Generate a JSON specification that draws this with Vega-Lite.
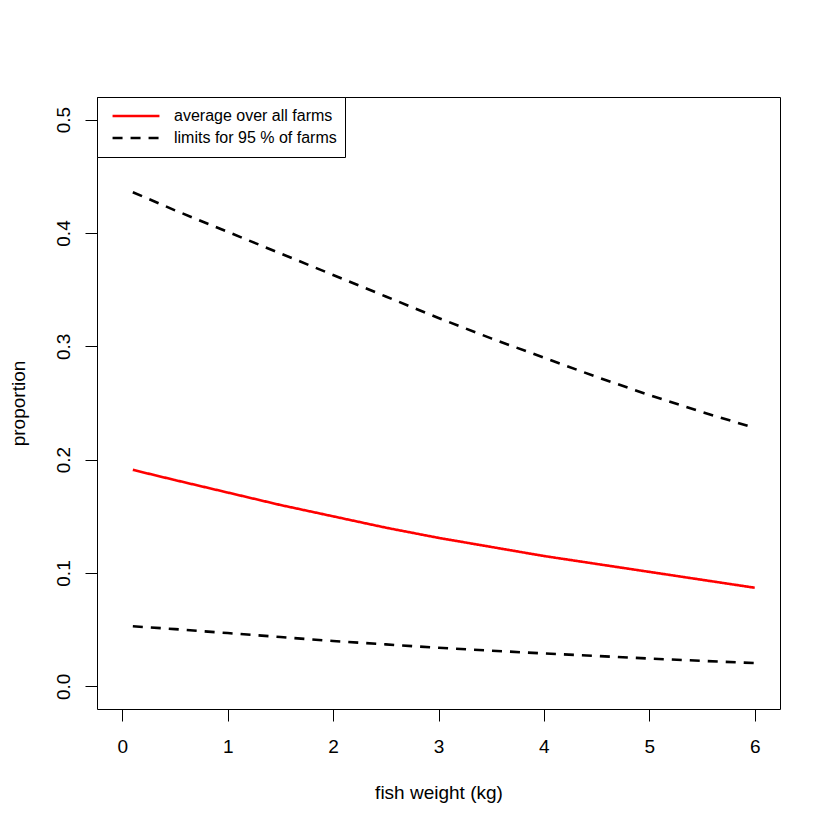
{
  "$schema": "https://vega.github.io/schema/vega-lite/v6.json",
  "autosize": "none",
  "width": 683,
  "height": 612,
  "padding": {"left": 97, "top": 97, "right": 50, "bottom": 121},
  "background": "white",
  "config": {
    "font": "Liberation Sans",
    "view": {"stroke": "black", "strokeWidth": 1},
    "axis": {
      "grid": false,
      "domain": false,
      "tickColor": "black",
      "tickWidth": 1,
      "tickSize": 12,
      "labelColor": "black",
      "labelFont": "Liberation Sans",
      "labelFontSize": 19,
      "titleFont": "Liberation Sans",
      "titleFontSize": 19,
      "titleFontWeight": "normal",
      "titleColor": "black"
    },
    "legend": {
      "orient": "top-left",
      "offset": 0,
      "strokeColor": "black",
      "strokeWidth": 1,
      "fillColor": "white",
      "padding": 8,
      "cornerRadius": 0,
      "symbolType": "stroke",
      "symbolSize": 2200,
      "symbolStrokeWidth": 2.6,
      "symbolOffset": 6,
      "clipHeight": 22,
      "rowPadding": 0,
      "labelFont": "Liberation Sans",
      "labelFontSize": 16,
      "labelColor": "black",
      "labelOffset": 13,
      "labelLimit": 400
    }
  },
  "data": {
    "values": [
      {"x": 0.1, "y": 0.191, "series": "average over all farms", "curve": "mean"},
      {"x": 0.5, "y": 0.182, "series": "average over all farms", "curve": "mean"},
      {"x": 1.0, "y": 0.171, "series": "average over all farms", "curve": "mean"},
      {"x": 1.5, "y": 0.160, "series": "average over all farms", "curve": "mean"},
      {"x": 2.0, "y": 0.150, "series": "average over all farms", "curve": "mean"},
      {"x": 2.5, "y": 0.140, "series": "average over all farms", "curve": "mean"},
      {"x": 3.0, "y": 0.131, "series": "average over all farms", "curve": "mean"},
      {"x": 3.5, "y": 0.123, "series": "average over all farms", "curve": "mean"},
      {"x": 4.0, "y": 0.115, "series": "average over all farms", "curve": "mean"},
      {"x": 4.5, "y": 0.108, "series": "average over all farms", "curve": "mean"},
      {"x": 5.0, "y": 0.101, "series": "average over all farms", "curve": "mean"},
      {"x": 5.5, "y": 0.094, "series": "average over all farms", "curve": "mean"},
      {"x": 6.0, "y": 0.087, "series": "average over all farms", "curve": "mean"},
      {"x": 0.1, "y": 0.436, "series": "limits for 95 % of farms", "curve": "upper"},
      {"x": 0.5, "y": 0.420, "series": "limits for 95 % of farms", "curve": "upper"},
      {"x": 1.0, "y": 0.401, "series": "limits for 95 % of farms", "curve": "upper"},
      {"x": 1.5, "y": 0.382, "series": "limits for 95 % of farms", "curve": "upper"},
      {"x": 2.0, "y": 0.363, "series": "limits for 95 % of farms", "curve": "upper"},
      {"x": 2.5, "y": 0.344, "series": "limits for 95 % of farms", "curve": "upper"},
      {"x": 3.0, "y": 0.325, "series": "limits for 95 % of farms", "curve": "upper"},
      {"x": 3.5, "y": 0.307, "series": "limits for 95 % of farms", "curve": "upper"},
      {"x": 4.0, "y": 0.290, "series": "limits for 95 % of farms", "curve": "upper"},
      {"x": 4.5, "y": 0.273, "series": "limits for 95 % of farms", "curve": "upper"},
      {"x": 5.0, "y": 0.257, "series": "limits for 95 % of farms", "curve": "upper"},
      {"x": 5.5, "y": 0.242, "series": "limits for 95 % of farms", "curve": "upper"},
      {"x": 6.0, "y": 0.228, "series": "limits for 95 % of farms", "curve": "upper"},
      {"x": 0.1, "y": 0.053, "series": "limits for 95 % of farms", "curve": "lower"},
      {"x": 0.5, "y": 0.0505, "series": "limits for 95 % of farms", "curve": "lower"},
      {"x": 1.0, "y": 0.047, "series": "limits for 95 % of farms", "curve": "lower"},
      {"x": 1.5, "y": 0.0435, "series": "limits for 95 % of farms", "curve": "lower"},
      {"x": 2.0, "y": 0.040, "series": "limits for 95 % of farms", "curve": "lower"},
      {"x": 2.5, "y": 0.037, "series": "limits for 95 % of farms", "curve": "lower"},
      {"x": 3.0, "y": 0.034, "series": "limits for 95 % of farms", "curve": "lower"},
      {"x": 3.5, "y": 0.0315, "series": "limits for 95 % of farms", "curve": "lower"},
      {"x": 4.0, "y": 0.029, "series": "limits for 95 % of farms", "curve": "lower"},
      {"x": 4.5, "y": 0.0268, "series": "limits for 95 % of farms", "curve": "lower"},
      {"x": 5.0, "y": 0.0245, "series": "limits for 95 % of farms", "curve": "lower"},
      {"x": 5.5, "y": 0.0225, "series": "limits for 95 % of farms", "curve": "lower"},
      {"x": 6.0, "y": 0.0205, "series": "limits for 95 % of farms", "curve": "lower"}
    ]
  },
  "mark": {"type": "line", "strokeWidth": 2.6, "clip": true},
  "encoding": {
    "x": {
      "field": "x",
      "type": "quantitative",
      "scale": {"domain": [-0.24, 6.24], "nice": false, "zero": false},
      "axis": {
        "values": [0, 1, 2, 3, 4, 5, 6],
        "format": "d",
        "title": "fish weight (kg)",
        "labelPadding": 16,
        "titlePadding": 27
      }
    },
    "y": {
      "field": "y",
      "type": "quantitative",
      "scale": {"domain": [-0.02, 0.52], "nice": false, "zero": false},
      "axis": {
        "values": [0, 0.1, 0.2, 0.3, 0.4, 0.5],
        "format": ".1f",
        "title": "proportion",
        "labelAngle": -90,
        "labelAlign": "center",
        "labelBaseline": "alphabetic",
        "labelPadding": 16,
        "titlePadding": 26
      }
    },
    "detail": {"field": "curve", "type": "nominal"},
    "color": {
      "field": "series",
      "type": "nominal",
      "scale": {"domain": ["average over all farms", "limits for 95 % of farms"], "range": ["red", "black"]},
      "legend": {"title": null}
    },
    "strokeDash": {
      "field": "series",
      "type": "nominal",
      "scale": {"domain": ["average over all farms", "limits for 95 % of farms"], "range": [[1, 0], [10, 8]]},
      "legend": {"title": null}
    }
  }
}
